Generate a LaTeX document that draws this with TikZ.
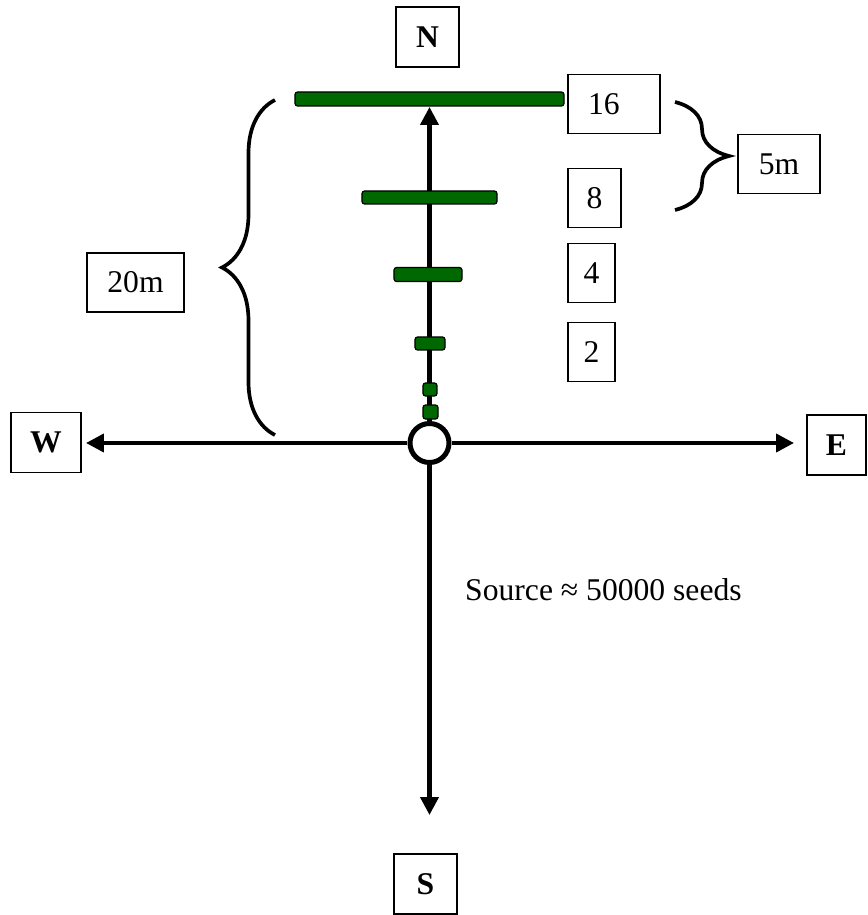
\documentclass[tikz,border=0pt]{standalone}
\usepackage{fontspec}
\setmainfont{Liberation Serif}
\usetikzlibrary{arrows.meta,decorations.pathreplacing}
\definecolor{barGreen}{RGB}{0,104,0}

\begin{document}
\begin{tikzpicture}
    \pgfmathsetmacro{\arrowsize}{0.36}
    \pgfmathsetmacro{\boxline}{0.8}
    \tikzset{every node/.style={font=\fontsize{18}{22}\selectfont}}
    \tikzset{
        dirbox/.style={draw,line width=\boxline pt,minimum width=1.26cm,minimum height=1.2cm,inner sep=0pt,font=\fontsize{18}{22}\selectfont\bfseries},
        numbox/.style={draw,line width=\boxline pt,minimum height=1.18cm,inner sep=0pt},
        seedbar/.style={draw,fill=barGreen,line width=0.7pt,rounded corners=1.5pt,inner sep=0pt},
        axis/.style={line width=2.3pt,-{Triangle[width=\arrowsize cm,length=\arrowsize cm]}},
        curlybrace/.style={line width=2.1pt,decorate,decoration={brace,amplitude=#1}}
    }
    \useasboundingbox (-8.59,-9.44) rectangle (8.75,8.86);
    % source and compass axes
    \node[circle,draw,fill=white,line width=0.1cm,minimum size=0.78cm,inner sep=0pt] (src) at (0,0) {};
    \coordinate (tipN) at (0,6.72);
    \coordinate (tipS) at (0,-7.44);
    \coordinate (tipW) at (-6.87,0);
    \coordinate (tipE) at (7.29,0);
    \draw[axis] (src) -- (tipN);
    \draw[axis] (src) -- (tipS);
    \draw[axis] (src) -- (tipW);
    \draw[axis] (src) -- (tipE);
    \node[dirbox] (N) at (-0.04,8.12) {N};
    \node[dirbox] (S) at (-0.08,-8.82) {S};
    \node[dirbox,minimum width=1.4cm] (W) at (-7.67,0.01) {W};
    \node[dirbox,minimum width=1.18cm] (E) at (8.14,-0.04) {E};
    % seed bars
    \node[seedbar,minimum width=5.38cm,minimum height=0.28cm] (bar16) at (0,6.88) {};
    \node[seedbar,minimum width=2.7cm,minimum height=0.26cm] (bar8) at (0,4.91) {};
    \node[seedbar,minimum width=1.36cm,minimum height=0.28cm] (bar4) at (-0.03,3.37) {};
    \node[seedbar,minimum width=0.6cm,minimum height=0.26cm] (bar2) at (0.01,1.99) {};
    \node[seedbar,minimum width=0.28cm,minimum height=0.26cm] (bar1a) at (0.01,1.07) {};
    \node[seedbar,minimum width=0.3cm,minimum height=0.28cm] (bar1b) at (0.02,0.62) {};
    % counts and distances
    \node[numbox,text width=1.04cm,align=left,inner xsep=0.4cm] (n16) at (3.69,6.78) {16};
    \node[numbox,minimum width=1.06cm] (n8) at (3.3,4.9) {8};
    \node[numbox,minimum width=0.94cm] (n4) at (3.24,3.4) {4};
    \node[numbox,minimum width=0.94cm] (n2) at (3.24,1.82) {2};
    \node[numbox,minimum width=1.64cm] (d5) at (6.99,5.58) {5m};
    \node[numbox,minimum width=1.94cm] (d20) at (-5.88,3.21) {20m};
    \coordinate (bl1) at (-3.09,0.16);
    \coordinate (bl2) at (-3.09,6.86);
    \coordinate (br1) at (4.91,6.82);
    \coordinate (br2) at (4.91,4.66);
    \draw[curlybrace=1.06cm] (bl1) -- (bl2);
    \draw[curlybrace=1.08cm] (br1) -- (br2);
    \node[anchor=base west] (srcnote) at (0.59,-3.14) {Source ≈ 50000 seeds};
\end{tikzpicture}
\end{document}
